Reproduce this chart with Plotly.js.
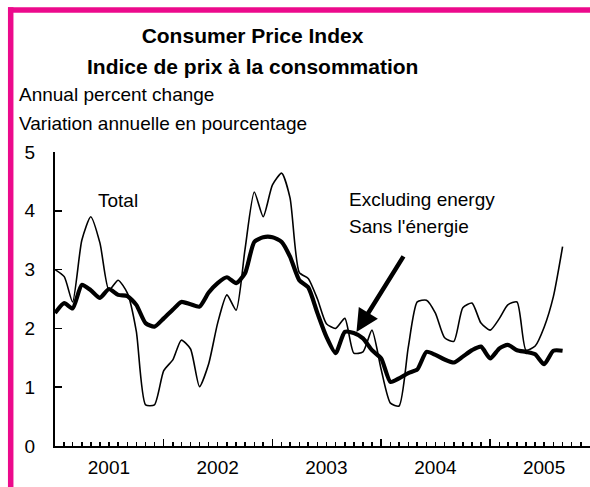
<!DOCTYPE html>
<html>
<head>
<meta charset="utf-8">
<script src="https://cdn.plot.ly/plotly-3.0.1.min.js"></script>
<style>
  html, body { margin: 0; padding: 0; background: #fff; }
  #chart { width: 590px; height: 487px; }
</style>
</head>
<body>
<div id="chart"></div>
<script>
// ---- Data (monthly, Jan 2001 onward) ----
const startYear = 2001;
const totalCPI = [
  3.0, 2.88, 2.45, 3.5, 3.9, 3.45, 2.65, 2.82, 2.6, 1.95, 0.7, 0.7,
  1.28, 1.47, 1.8, 1.65, 1.01, 1.4, 2.09, 2.57, 2.31, 3.35, 4.32, 3.9,
  4.44, 4.64, 4.22, 2.95, 2.85, 2.5, 2.08, 2.0, 2.17, 1.58, 1.6, 1.97,
  1.3, 0.73, 0.68, 1.68, 2.45, 2.48, 2.26, 1.84, 1.78, 2.35, 2.43, 2.09,
  1.97, 2.17, 2.4, 2.45, 1.63, 1.7, 2.02, 2.54, 3.39
];
const exEnergyCPI = [
  2.26, 2.43, 2.34, 2.74, 2.65, 2.52, 2.67, 2.57, 2.55, 2.4, 2.09, 2.03,
  2.17, 2.32, 2.45, 2.41, 2.37, 2.61, 2.77, 2.87, 2.77, 2.94, 3.47, 3.55,
  3.55, 3.47, 3.22, 2.82, 2.7, 2.26, 1.86, 1.58, 1.94, 1.92, 1.83, 1.63,
  1.49, 1.09, 1.15, 1.24, 1.3, 1.6, 1.55, 1.47, 1.42, 1.52, 1.63, 1.69,
  1.49, 1.66, 1.72, 1.63, 1.6, 1.56, 1.39, 1.62, 1.62
];
const yearLabels = ['2001', '2002', '2003', '2004', '2005'];
const yTicks = [0, 1, 2, 3, 4, 5];

function monthDate(i) {
  const y = startYear + Math.floor(i / 12);
  const m = (i % 12) + 1;
  return y + '-' + String(m).padStart(2, '0') + '-01';
}
const dates = totalCPI.map((_, i) => monthDate(i));
const yearStarts = yearLabels.map(y => y + '-01-01');
const yearMids = yearLabels.map(y => y + '-07-01');

const FONT = 'Liberation Sans, Arial, Helvetica, sans-serif';
const PINK = '#EC0A8C';

const traces = [
  {
    x: dates, y: totalCPI, type: 'scatter', mode: 'lines',
    line: { color: '#000', width: 1.6, shape: 'spline', smoothing: 0.6 },
    name: 'Total', showlegend: false, hoverinfo: 'skip'
  },
  {
    x: dates, y: exEnergyCPI, type: 'scatter', mode: 'lines',
    line: { color: '#000', width: 4.2, shape: 'spline', smoothing: 0.6 },
    name: 'Excluding energy', showlegend: false, hoverinfo: 'skip'
  },
  {
    // invisible trace to carry the year labels axis
    x: [yearMids[0]], y: [0], xaxis: 'x2', type: 'scatter', mode: 'markers',
    marker: { opacity: 0 }, showlegend: false, hoverinfo: 'skip'
  }
];

const layout = {
  width: 590, height: 487,
  paper_bgcolor: '#fff', plot_bgcolor: '#fff',
  margin: { l: 55, r: 0, t: 152, b: 41 },
  font: { family: FONT, size: 19, color: '#000' },
  showlegend: false,
  title: {
    text: '<b>Consumer Price Index</b>',
    font: { family: FONT, size: 21, color: '#000' },
    xref: 'container', x: 252.5 / 590, xanchor: 'center',
    yref: 'container', y: 1 - 36 / 487, yanchor: 'middle'
  },
  xaxis: {
    type: 'date',
    range: ['2001-01-01', '2005-12-02'],
    showgrid: false, zeroline: false,
    showline: true, linecolor: '#000', linewidth: 2,
    tickmode: 'array', tickvals: yearStarts,
    ticks: 'inside', ticklen: 7, tickwidth: 1.5, tickcolor: '#000',
    showticklabels: false,
    minor: { ticks: 'inside', ticklen: 4, tickwidth: 1.5, tickcolor: '#000', dtick: 'M1', tick0: '2001-01-01', showgrid: false },
    fixedrange: true
  },
  xaxis2: {
    type: 'date', overlaying: 'x', matches: 'x', anchor: 'y', side: 'bottom',
    range: ['2001-01-01', '2005-12-02'],
    showgrid: false, zeroline: false, showline: false,
    tickmode: 'array', tickvals: yearMids, ticktext: yearLabels,
    ticks: '', ticklabelstandoff: 8,
    tickfont: { family: FONT, size: 19, color: '#000' }
  },
  yaxis: {
    range: [0, 5],
    showgrid: false, zeroline: false,
    showline: true, linecolor: '#000', linewidth: 2,
    tickmode: 'array', tickvals: yTicks,
    ticks: 'inside', ticklen: 7, tickwidth: 1.5, tickcolor: '#000',
    ticklabelstandoff: 14,
    tickfont: { family: FONT, size: 19, color: '#000' },
    fixedrange: true
  },
  annotations: [
    { text: '<b>Indice de prix à la consommation</b>', xref: 'paper', yref: 'paper',
      x: (252.5 - 55) / 535, y: (446 - 66.5) / 294, xanchor: 'center', yanchor: 'middle',
      showarrow: false, font: { family: FONT, size: 21, color: '#000' } },
    { text: 'Annual percent change', xref: 'paper', yref: 'paper',
      x: (17 - 55) / 535, y: (446 - 95) / 294, xanchor: 'left', yanchor: 'middle',
      showarrow: false, font: { family: FONT, size: 19, color: '#000' } },
    { text: 'Variation annuelle en pourcentage', xref: 'paper', yref: 'paper',
      x: (17 - 55) / 535, y: (446 - 123) / 294, xanchor: 'left', yanchor: 'middle',
      showarrow: false, font: { family: FONT, size: 19, color: '#000' } },
    { text: 'Total', xref: 'x', yref: 'y', x: '2001-05-18', y: 4.17,
      xanchor: 'left', yanchor: 'middle', showarrow: false,
      font: { family: FONT, size: 19, color: '#000' } },
    { text: 'Excluding energy', xref: 'x', yref: 'y', x: '2003-09-08', y: 4.2,
      xanchor: 'left', yanchor: 'middle', showarrow: false,
      font: { family: FONT, size: 19, color: '#000' } },
    { text: "Sans l'énergie", xref: 'x', yref: 'y', x: '2003-09-08', y: 3.74,
      xanchor: 'left', yanchor: 'middle', showarrow: false,
      font: { family: FONT, size: 19, color: '#000' } },
    { text: '', xref: 'x', yref: 'y', x: '2003-10-10', y: 1.94,
      axref: 'x', ayref: 'y', ax: '2004-03-19', ay: 3.25,
      showarrow: true, arrowhead: 2, arrowsize: 1, arrowwidth: 4.5, arrowcolor: '#000' }
  ],
  shapes: [
    { type: 'line', xref: 'paper', yref: 'paper',
      x0: (8 - 55) / 535, x1: 1, y0: (446 - 10) / 294, y1: (446 - 10) / 294,
      line: { color: PINK, width: 5.5 } },
    { type: 'line', xref: 'paper', yref: 'paper',
      x0: (10.7 - 55) / 535, x1: (10.7 - 55) / 535, y0: (446 - 7.3) / 294, y1: (446 - 495) / 294,
      line: { color: PINK, width: 5.5 } }
  ]
};

Plotly.newPlot('chart', traces, layout, { staticPlot: true, displayModeBar: false });
</script>
</body>
</html>
